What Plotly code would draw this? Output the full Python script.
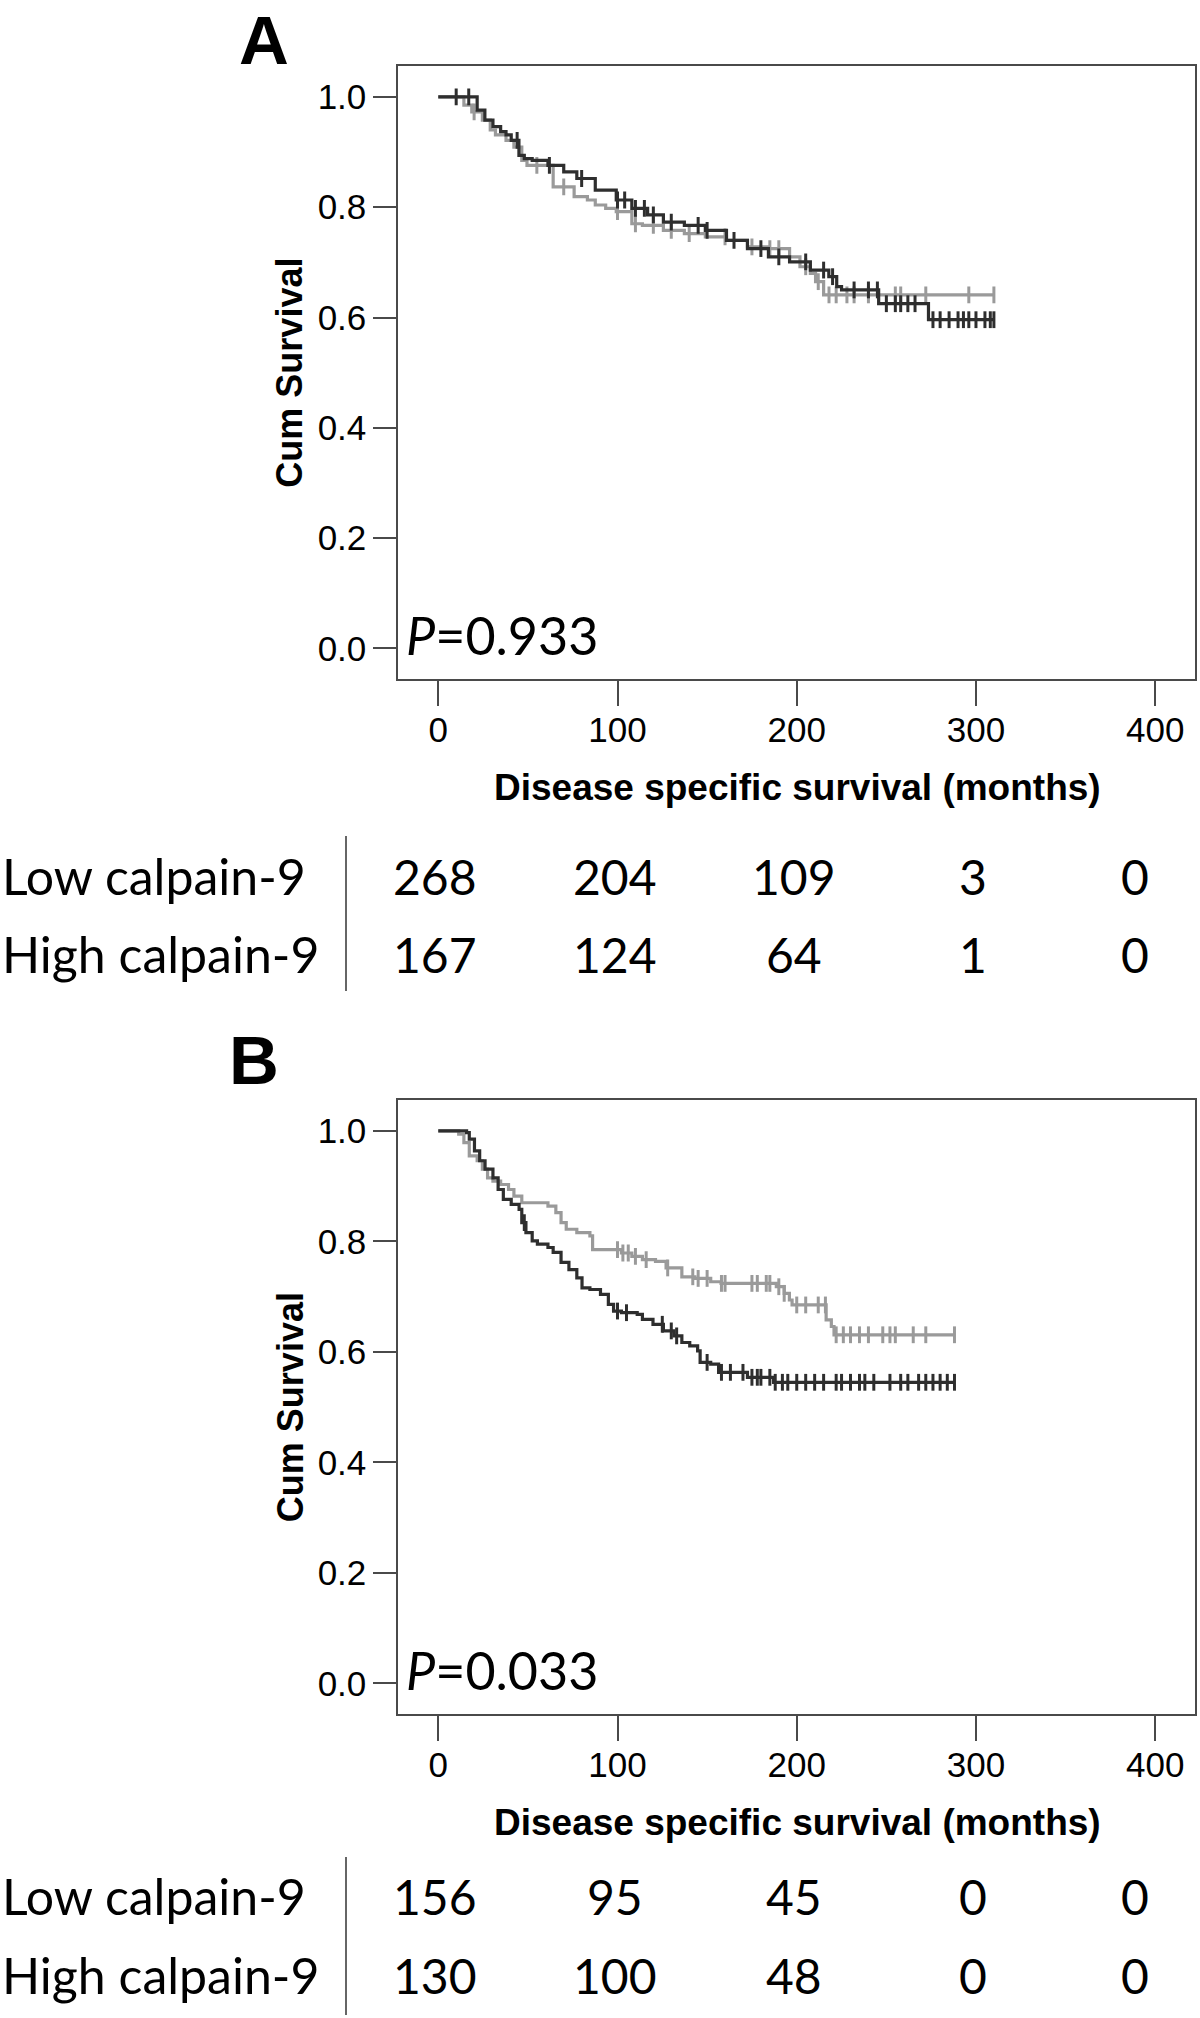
import numpy as np
import plotly.graph_objects as go

W, H = 1200, 2018

# ---------------- Data ----------------
# Panel A (Kaplan-Meier steps: time in months, cumulative survival)
a_low_t = [0, 10, 21.7, 26, 30.5, 34.8, 37.8, 40.7, 45, 48, 52.4, 61.2, 70, 77.3, 87.6, 99.3,
           108, 116.8, 125.6, 137.3, 149, 160.8, 172.5, 184.2, 196, 207.6, 217.9, 222.3, 225,
           245.7, 273.5, 310]
a_low_s = [1.0, 1.0, 0.976, 0.958, 0.946, 0.937, 0.931, 0.921, 0.894, 0.888, 0.885, 0.876, 0.864,
           0.852, 0.831, 0.813, 0.798, 0.786, 0.773, 0.767, 0.758, 0.740, 0.725, 0.710, 0.701,
           0.686, 0.674, 0.656, 0.650, 0.625, 0.596, 0.596]
a_low_cens = [10, 17, 44, 62, 80, 100, 104, 110, 115, 120, 130, 145, 150, 165, 180, 190, 205, 215,
              220, 232, 240, 245, 250, 255, 258, 262, 266, 276, 280, 285, 290, 293, 296, 300, 305,
              308, 310]

a_high_t = [0, 14.3, 18.7, 24.6, 29, 31.9, 37.8, 42.2, 46.6, 49.5, 64.1, 75.8, 83.2, 87.6, 93.4,
            99.3, 108, 113.9, 125.6, 137.3, 149, 160.8, 172.5, 184.2, 196, 201.8, 207.6, 210.5,
            215, 310]
a_high_s = [1.0, 0.985, 0.973, 0.958, 0.940, 0.931, 0.921, 0.909, 0.885, 0.876, 0.837, 0.819,
            0.813, 0.804, 0.798, 0.792, 0.770, 0.767, 0.758, 0.752, 0.746, 0.740, 0.728, 0.725,
            0.710, 0.692, 0.680, 0.665, 0.641, 0.641]
a_high_cens = [20, 55, 70, 100, 110, 120, 130, 140, 160, 175, 185, 190, 205, 212, 218, 222, 228,
               232, 240, 255, 258, 272, 296, 310]

# Panel B
b_low_t = [0, 15.8, 17.3, 20.2, 23.1, 26.1, 30.5, 33.4, 36.3, 40.7, 45.1, 46.6, 48.9, 52.4, 55.3,
           61.2, 64.1, 68.5, 72.9, 77.3, 80.2, 84.6, 90.5, 94.9, 97.8, 102.2, 111, 113.9, 119.8,
           125.6, 131.5, 135.9, 140.3, 144.7, 146.1, 152, 156.4, 172.5, 187.1, 288]
b_low_s = [1.0, 0.997, 0.985, 0.964, 0.946, 0.931, 0.915, 0.894, 0.876, 0.867, 0.858, 0.834,
           0.816, 0.801, 0.795, 0.789, 0.780, 0.762, 0.749, 0.734, 0.716, 0.713, 0.704, 0.686,
           0.674, 0.671, 0.668, 0.659, 0.650, 0.638, 0.629, 0.617, 0.611, 0.602, 0.581, 0.578,
           0.563, 0.554, 0.545, 0.545]
b_low_cens = [48, 100, 105, 125, 130, 133, 150, 158, 163, 170, 175, 178, 180, 185, 188, 192, 195,
              200, 205, 210, 215, 222, 225, 230, 235, 238, 243, 252, 258, 262, 268, 272, 276, 280,
              284, 288]

b_high_t = [0, 11.4, 14.3, 17.3, 21.7, 24.6, 27.5, 30.5, 34.8, 39.2, 42.2, 46.6, 61.2, 65.6, 68.5,
            71.4, 77.3, 84.6, 86.1, 102.2, 108, 113.9, 121.2, 127.1, 135.9, 143.2, 152, 157.8,
            188.6, 193, 195.9, 197.4, 216.4, 219.3, 220.8, 288]
b_high_s = [1.0, 0.994, 0.979, 0.955, 0.946, 0.931, 0.915, 0.909, 0.903, 0.894, 0.882, 0.870,
            0.864, 0.852, 0.834, 0.822, 0.816, 0.810, 0.785, 0.779, 0.773, 0.767, 0.764, 0.752,
            0.736, 0.733, 0.727, 0.724, 0.718, 0.706, 0.694, 0.685, 0.658, 0.646, 0.631, 0.631]
b_high_cens = [100, 103, 106, 110, 116, 128, 142, 145, 150, 158, 160, 175, 178, 183, 185, 190,
               193, 200, 205, 212, 216, 222, 226, 230, 235, 240, 248, 252, 255, 265, 272, 288]

# Numbers at risk
risk_times = [0, 100, 200, 300, 400]
risk_rows = ["Low calpain-9", "High calpain-9"]
a_risk_low = [268, 204, 109, 3, 0]
a_risk_high = [167, 124, 64, 1, 0]
b_risk_low = [156, 95, 45, 0, 0]
b_risk_high = [130, 100, 48, 0, 0]

p_values = ["0.933", "0.033"]
panel_letters = ["A", "B"]
x_ticks = [0, 100, 200, 300, 400]
y_ticks = [0.0, 0.2, 0.4, 0.6, 0.8, 1.0]

# ---------------- Styling ----------------
DARK = "#2e2e2e"
GREY = "#9a9a9a"
AXC = "#4a4a4a"
TICKFONT = "Liberation Sans, Arial, sans-serif"
TEXTFONT = "Lato, Open Sans, sans-serif"


def py(px):
    return 1 - px / H


def px_(x):
    return x / W


def step_at(ts, ss, c):
    ts = np.asarray(ts)
    idx = np.searchsorted(ts, c, side="right") - 1
    return [ss[i] for i in idx]


fig = go.Figure()

panels = [
    dict(xa="x", ya="y", low=(a_low_t, a_low_s, a_low_cens), high=(a_high_t, a_high_s, a_high_cens),
         top=66, bottom=679.3, risk=(a_risk_low, a_risk_high), rows_y=(876, 954), div=(836, 991),
         letter_y=1, letter_x=264),
    dict(xa="x2", ya="y2", low=(b_low_t, b_low_s, b_low_cens), high=(b_high_t, b_high_s, b_high_cens),
         top=1100, bottom=1714.3, risk=(b_risk_low, b_risk_high), rows_y=(1896, 1975), div=(1857, 2015),
         letter_y=1021, letter_x=254),
]

annotations = []
shapes = []
for k, p in enumerate(panels):
    for (t, s, c), col in [(p["high"], GREY), (p["low"], DARK)]:
        fig.add_trace(go.Scatter(x=t, y=s, mode="lines", line=dict(color=col, width=3.2, shape="hv"),
                                 xaxis=p["xa"], yaxis=p["ya"], showlegend=False, hoverinfo="skip"))
        fig.add_trace(go.Scatter(x=c, y=step_at(t, s, c), mode="markers",
                                 marker=dict(symbol="line-ns", size=12, line=dict(color=col, width=3)),
                                 xaxis=p["xa"], yaxis=p["ya"], showlegend=False, hoverinfo="skip"))
    # letter
    annotations.append(dict(text=f"<b>{panel_letters[k]}</b>", x=px_(p["letter_x"]),
                            y=py(p["letter_y"]), borderpad=0,
                            xref="paper", yref="paper", xanchor="center", yanchor="top", showarrow=False,
                            font=dict(family="Liberation Sans, Arial", size=69, color="black")))
    # P value
    annotations.append(dict(text=f"<i>P</i>={p_values[k]}", x=px_(404), y=py(p["bottom"] - 44),
                            xref="paper", yref="paper", xanchor="left", yanchor="middle", showarrow=False,
                            font=dict(family=TEXTFONT, size=52, color="black")))
    # axis titles
    annotations.append(dict(text="<b>Disease specific survival (months)</b>", x=px_(797),
                            y=py(p["bottom"] + 108), xref="paper", yref="paper", xanchor="center",
                            yanchor="middle", showarrow=False,
                            font=dict(family=TICKFONT, size=37, color="black")))
    annotations.append(dict(text="<b>Cum Survival</b>", x=px_(290), y=py((p["top"] + p["bottom"]) / 2),
                            xref="paper", yref="paper", xanchor="center", yanchor="middle", textangle=-90,
                            showarrow=False, font=dict(family=TICKFONT, size=36, color="black")))
    # risk table
    for r, (lab, vals) in enumerate(zip(risk_rows, p["risk"])):
        yy = py(p["rows_y"][r])
        annotations.append(dict(text=lab, x=0, y=yy, xref="paper", yref="paper", xanchor="left",
                                yanchor="middle", showarrow=False,
                                font=dict(family=TEXTFONT, size=50, color="black")))
        for j, (tt, v) in enumerate(zip(risk_times, vals)):
            annotations.append(dict(text=str(v), x=tt, y=yy, xref=p["xa"], yref="paper",
                                    xanchor="center", yanchor="middle", showarrow=False,
                                    xshift=(-20 if j == len(risk_times) - 1 else -3),
                                    font=dict(family=TEXTFONT, size=48, color="black")))
    shapes.append(dict(type="line", xref="paper", yref="paper", x0=px_(346), x1=px_(346),
                       y0=py(p["div"][0]), y1=py(p["div"][1]), line=dict(color="#333", width=1.5)))

xdom = [398.3 / W, 1195 / W]
axis_common_x = dict(range=[-22.3, 422.2], tickvals=x_ticks, ticktext=[str(v) for v in x_ticks],
                     showline=True, mirror=True, linecolor=AXC, linewidth=2, ticks="outside",
                     ticklen=25, tickwidth=2, tickcolor=AXC, showgrid=False, zeroline=False,
                     ticklabelstandoff=-6,
                     tickfont=dict(family=TICKFONT, size=35, color="black"), domain=xdom,
                     fixedrange=True)
axis_common_y = dict(range=[-0.056, 1.056], tickvals=y_ticks, tickformat=".1f",
                     showline=True, mirror=True, linecolor=AXC, linewidth=2, ticks="outside",
                     ticklen=23, tickwidth=2, tickcolor=AXC, showgrid=False, zeroline=False,
                     tickfont=dict(family=TICKFONT, size=35, color="black"), fixedrange=True)

fig.update_layout(
    width=W, height=H, margin=dict(l=0, r=0, t=0, b=0),
    paper_bgcolor="white", plot_bgcolor="white",
    xaxis=dict(**axis_common_x, anchor="y"),
    yaxis=dict(**axis_common_y, anchor="x", domain=[py(679.3), py(66)]),
    xaxis2=dict(**axis_common_x, anchor="y2"),
    yaxis2=dict(**axis_common_y, anchor="x2", domain=[py(1714.3), py(1100)]),
    annotations=annotations, shapes=shapes, showlegend=False,
)

fig.write_html(
    "out.html",
    config={"displayModeBar": False},
    post_script="document.body.style.margin='0';document.body.style.padding='0';"
                "document.body.style.overflow='hidden';",
)
